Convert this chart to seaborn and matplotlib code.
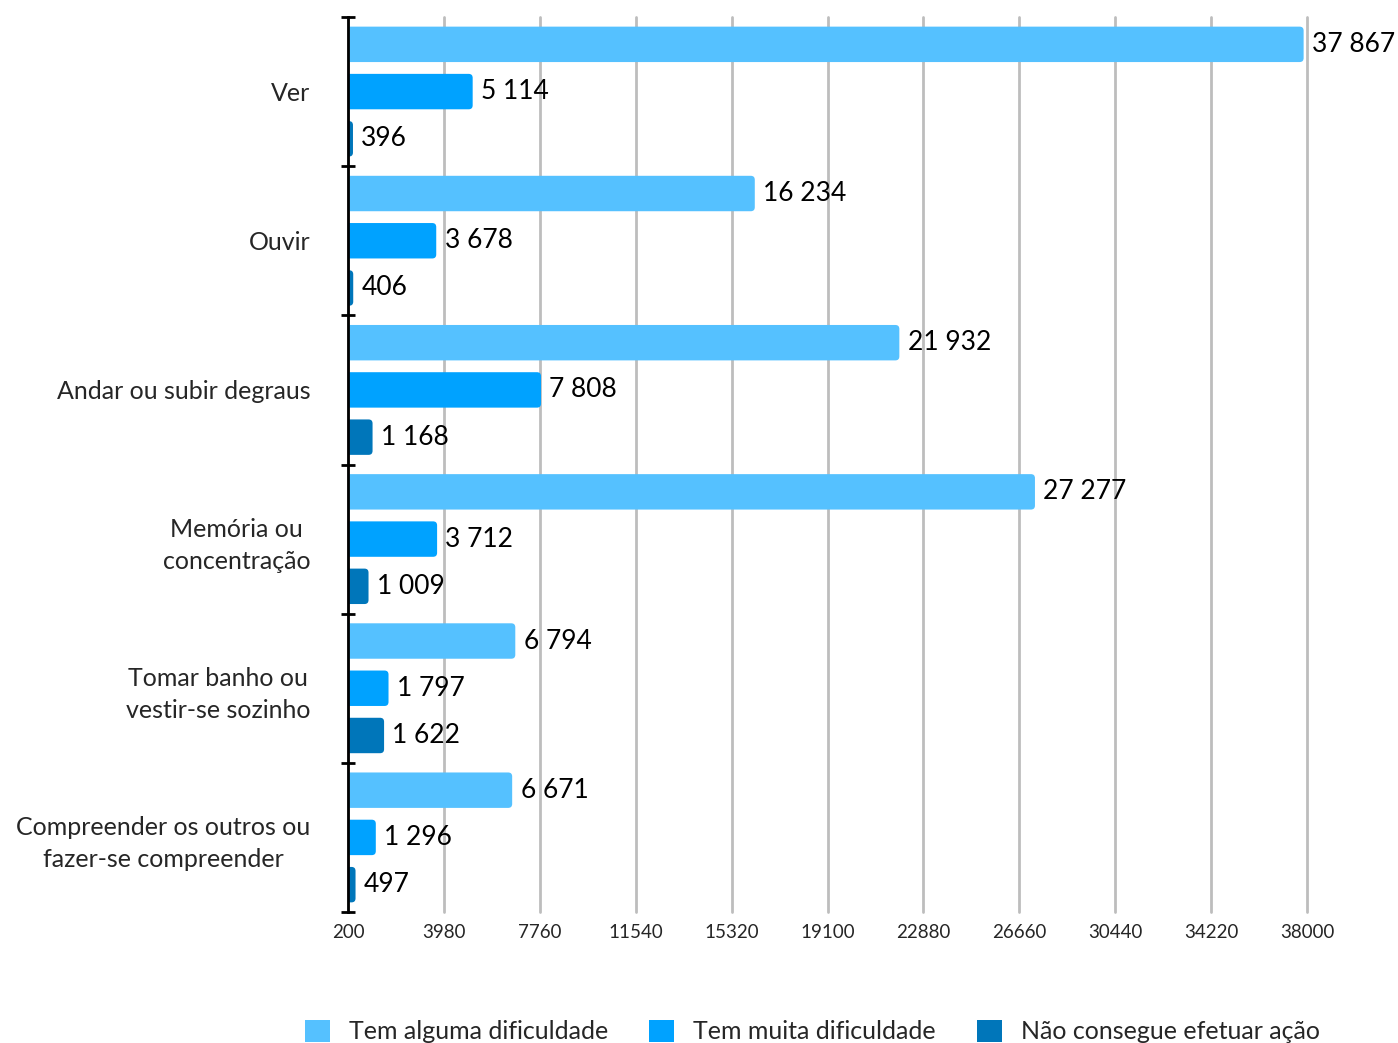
import matplotlib
matplotlib.use("Agg")
import matplotlib.pyplot as plt
import seaborn as sns
import pandas as pd
import numpy as np
from matplotlib.patches import Patch, FancyBboxPatch

categories = ["Ver", "Ouvir", "Andar ou subir degraus", "Memória ou\nconcentração",
              "Tomar banho ou\nvestir-se sozinho", "Compreender os outros ou\nfazer-se compreender"]
series = ["Tem alguma dificuldade", "Tem muita dificuldade", "Não consegue efetuar ação"]
alguma = [37867, 16234, 21932, 27277, 6794, 6671]
muita = [5114, 3678, 7808, 3712, 1797, 1296]
nao = [396, 406, 1168, 1009, 1622, 497]
xticks = [200, 3980, 7760, 11540, 15320, 19100, 22880, 26660, 30440, 34220, 38000]
colors = ["#55C1FF", "#00A2FF", "#0076BA"]

rows = []
for s, vals in zip(series, [alguma, muita, nao]):
    for c, v in zip(categories, vals):
        rows.append({"cat": c, "serie": s, "valor": v})
df = pd.DataFrame(rows)

sns.set_style("white")
plt.rcParams['font.family'] = ['Lato', 'DejaVu Sans']

W, H = 1398, 1043
fig = plt.figure(figsize=(W / 100, H / 100), dpi=100)
ax_l, ax_r, ax_t, ax_b = 348, 1307, 17, 912
ax = fig.add_axes([ax_l / W, 1 - ax_b / H, (ax_r - ax_l) / W, (ax_b - ax_t) / H])

sns.barplot(data=df, y="cat", x="valor", hue="serie", order=categories, hue_order=series,
            palette=colors, orient="h", width=0.95, gap=0.25, ax=ax, legend=False,
            errorbar=None, saturation=1)

for cont, vals in zip(ax.containers, [alguma, muita, nao]):
    labels = [f"{v:,}".replace(",", " ") for v in vals]
    ax.bar_label(cont, labels=labels, padding=6, fontsize=19, color="black")

xmin, xmax = 200, 38000
ax.set_xlim(xmin, xmax)
ax.set_ylim(len(categories) - 0.5, -0.5)

# rounded right corners
xpp = (xmax - xmin) / (ax_r - ax_l)
ypp = len(categories) / (ax_b - ax_t)
for p in list(ax.patches):
    if not isinstance(p, matplotlib.patches.Rectangle):
        continue
    x0, y0, w, h = p.get_x(), p.get_y(), p.get_width(), p.get_height()
    fb = FancyBboxPatch((x0, y0), w, h,
                        boxstyle=f"round,pad=0,rounding_size={4 * xpp}",
                        mutation_aspect=ypp / xpp,
                        facecolor=p.get_facecolor(), edgecolor="none", zorder=p.get_zorder())
    p.set_visible(False)
    ax.add_patch(fb)

ax.set_xticks(xticks)
ax.set_xticklabels([str(t) for t in xticks], fontsize=13.5)
ax.tick_params(axis="x", length=0, pad=9)
ax.xaxis.grid(True, color="#BDBDBD", linewidth=2)
for gl in ax.get_xgridlines():
    gl.set_clip_on(False)
ax.set_axisbelow(True)

ax.set_yticks(range(len(categories)))
ax.set_yticklabels(categories, fontsize=18, multialignment="center", linespacing=1.45)
ax.tick_params(axis="y", which="major", left=False, length=0, pad=27)
ax.set_yticks(np.arange(-0.5, len(categories), 1), minor=True)
ax.tick_params(axis="y", which="minor", left=True, length=10, width=2, direction="inout",
               color="black")

for s in ["top", "right", "bottom"]:
    ax.spines[s].set_visible(False)
ax.spines["left"].set_color("black")
ax.spines["left"].set_linewidth(2)
ax.set_xlabel("")
ax.set_ylabel("")

handles = [Patch(facecolor=c, edgecolor="none") for c in colors]
fig.legend(handles, series, loc="lower center", bbox_to_anchor=(0.581, -0.022), ncol=3,
           frameon=False, fontsize=18, handlelength=1.0, handleheight=1.0,
           columnspacing=1.65, handletextpad=0.75)

fig.savefig("out.png", dpi=100)
